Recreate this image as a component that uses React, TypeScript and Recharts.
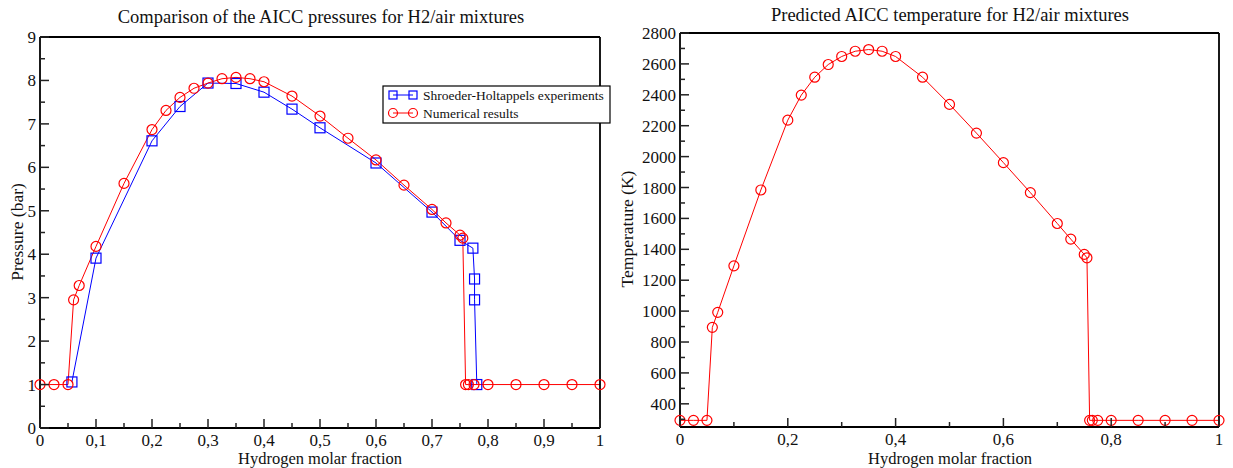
import React from 'react';
import { LineChart, Line, XAxis, YAxis } from 'recharts';

const FONT = '"Liberation Serif", "DejaVu Serif", "Times New Roman", serif';

// Numerical results (shared x for pressure and temperature)
const numX = [0, 0.025, 0.05, 0.06, 0.07, 0.1, 0.15, 0.2, 0.225, 0.25, 0.275, 0.3, 0.325, 0.35, 0.375, 0.4, 0.45, 0.5, 0.55, 0.6, 0.65, 0.7, 0.725, 0.75, 0.755, 0.76, 0.765, 0.775, 0.8, 0.85, 0.9, 0.95, 1];
const numP = [1, 1, 1, 2.95, 3.28, 4.18, 5.63, 6.87, 7.31, 7.61, 7.82, 7.94, 8.04, 8.07, 8.04, 7.97, 7.64, 7.18, 6.67, 6.17, 5.59, 5.03, 4.72, 4.44, 4.37, 1, 1, 1, 1, 1, 1, 1, 1];
const numT = [293, 293, 293, 895, 992, 1293, 1784, 2236, 2398, 2514, 2596, 2648, 2682, 2693, 2682, 2648, 2514, 2338, 2152, 1961, 1767, 1567, 1466, 1367, 1345, 293, 293, 293, 293, 293, 293, 293, 293];

// Shroeder-Holtappels experiments
const expX = [0.057, 0.1, 0.2, 0.25, 0.3, 0.35, 0.4, 0.45, 0.5, 0.6, 0.7, 0.75, 0.773, 0.776, 0.776, 0.78];
const expP = [1.06, 3.91, 6.61, 7.4, 7.94, 7.93, 7.73, 7.34, 6.91, 6.1, 4.97, 4.32, 4.14, 3.43, 2.95, 1.0];

// Ticks
const leftXMajor = [0, 0.1, 0.2, 0.3, 0.4, 0.5, 0.6, 0.7, 0.8, 0.9, 1];
const leftXMinor = [0.05, 0.15, 0.25, 0.35, 0.45, 0.55, 0.65, 0.75, 0.85, 0.95];
const leftYMajor = [0, 1, 2, 3, 4, 5, 6, 7, 8, 9];
const leftYMinor = [0.5, 1.5, 2.5, 3.5, 4.5, 5.5, 6.5, 7.5, 8.5];
const rightXMajor = [0, 0.2, 0.4, 0.6, 0.8, 1];
const rightXMinor = [0.1, 0.3, 0.5, 0.7, 0.9];
const rightYMajor = [400, 600, 800, 1000, 1200, 1400, 1600, 1800, 2000, 2200, 2400, 2600, 2800];
const rightYMinor = [300, 500, 700, 900, 1100, 1300, 1500, 1700, 1900, 2100, 2300, 2500, 2700];

const expData = expX.map((x, i) => ({ x, y: expP[i] }));
const numPData = numX.map((x, i) => ({ x, y: numP[i] }));
const numTData = numX.map((x, i) => ({ x, y: numT[i] }));

const near = (arr: number[], v: number) => arr.some((m) => Math.abs(m - v) < 1e-6);
const fmtX = (v: number) => {
  const r = Math.round(v * 10) / 10;
  return String(r).replace('.', ',');
};
const fmtY = (v: number) => String(Math.round(v));

type Side = 'bottom' | 'top' | 'left' | 'right';

function makeTick(side: Side, majors: number[], fmt: ((v: number) => string) | null) {
  return function Tick(props: any) {
    const { x, y, payload } = props;
    const v = payload.value;
    const major = near(majors, v);
    const len = major ? 9 : 5;
    const ls = { stroke: '#222', strokeWidth: 1.5 };
    let line: any = null;
    let label: any = null;
    if (side === 'bottom') {
      line = <line x1={x} y1={y} x2={x} y2={y - len} {...ls} />;
      if (fmt && major)
        label = (
          <text x={x} y={y + 18} textAnchor="middle" fontSize={17} fontFamily={FONT} fill="#111">
            {fmt(v)}
          </text>
        );
    } else if (side === 'top') {
      line = <line x1={x} y1={y} x2={x} y2={y + len} {...ls} />;
    } else if (side === 'left') {
      line = <line x1={x} y1={y} x2={x + len} y2={y} {...ls} />;
      if (fmt && major)
        label = (
          <text x={x - 4} y={y + 6} textAnchor="end" fontSize={17} fontFamily={FONT} fill="#111">
            {fmt(v)}
          </text>
        );
    } else {
      line = <line x1={x} y1={y} x2={x - len} y2={y} {...ls} />;
    }
    return (
      <g>
        {line}
        {label}
      </g>
    );
  };
}

const axisLine = { stroke: '#000', strokeWidth: 1.8 };

const SquareDot = (p: any) => (
  <rect key={`sq-${p.index}`} x={p.cx - 5} y={p.cy - 5} width={10} height={10} fill="none" stroke="#0000ff" strokeWidth={1.2} />
);

function PressureChart() {
  const xt = [...leftXMajor, ...leftXMinor].sort((a, b) => a - b);
  const yt = [...leftYMajor, ...leftYMinor].sort((a, b) => a - b);
  return (
    <LineChart width={620} height={468} margin={{ top: 0, right: 0, bottom: 0, left: 0 }}>
      <XAxis xAxisId="b" dataKey="x" type="number" orientation="bottom" domain={[0, 1]} ticks={xt} interval={0} height={40}
        tickSize={0} tickMargin={0} tickLine={false} axisLine={axisLine} tick={makeTick('bottom', leftXMajor, fmtX)} />
      <XAxis xAxisId="t" dataKey="x" type="number" orientation="top" domain={[0, 1]} ticks={xt} interval={0} height={37}
        tickSize={0} tickMargin={0} tickLine={false} axisLine={axisLine} tick={makeTick('top', leftXMajor, null)} />
      <YAxis yAxisId="l" type="number" orientation="left" domain={[0, 9]} ticks={yt} interval={0} width={40}
        tickSize={0} tickMargin={0} tickLine={false} axisLine={axisLine} tick={makeTick('left', leftYMajor, fmtY)} />
      <YAxis yAxisId="r" type="number" orientation="right" domain={[0, 9]} ticks={yt} interval={0} width={20}
        tickSize={0} tickMargin={0} tickLine={false} axisLine={axisLine} tick={makeTick('right', leftYMajor, null)} />
      <Line xAxisId="b" yAxisId="l" data={expData} dataKey="y" type="linear" stroke="#0000ff" strokeWidth={1}
        dot={SquareDot} activeDot={false} isAnimationActive={false} />
      <Line xAxisId="b" yAxisId="l" data={numPData} dataKey="y" type="linear" stroke="#ff0000" strokeWidth={1}
        dot={{ r: 5, stroke: '#ff0000', fill: 'none', strokeWidth: 1.2 }} activeDot={false} isAnimationActive={false} />
    </LineChart>
  );
}

function TemperatureChart() {
  const xt = [...rightXMajor, ...rightXMinor].sort((a, b) => a - b);
  const yt = [...rightYMajor, ...rightYMinor].sort((a, b) => a - b);
  return (
    <LineChart width={593} height={468} margin={{ top: 0, right: 0, bottom: 0, left: 0 }}>
      <XAxis xAxisId="b" dataKey="x" type="number" orientation="bottom" domain={[0, 1]} ticks={xt} interval={0} height={41}
        tickSize={0} tickMargin={0} tickLine={false} axisLine={axisLine} tick={makeTick('bottom', rightXMajor, fmtX)} />
      <XAxis xAxisId="t" dataKey="x" type="number" orientation="top" domain={[0, 1]} ticks={xt} interval={0} height={33}
        tickSize={0} tickMargin={0} tickLine={false} axisLine={axisLine} tick={makeTick('top', rightXMajor, null)} />
      <YAxis yAxisId="l" type="number" orientation="left" domain={[250, 2800]} ticks={yt} interval={0} width={40}
        tickSize={0} tickMargin={0} tickLine={false} axisLine={axisLine} tick={makeTick('left', rightYMajor, fmtY)} />
      <YAxis yAxisId="r" type="number" orientation="right" domain={[250, 2800]} ticks={yt} interval={0} width={14}
        tickSize={0} tickMargin={0} tickLine={false} axisLine={axisLine} tick={makeTick('right', rightYMajor, null)} />
      <Line xAxisId="b" yAxisId="l" data={numTData} dataKey="y" type="linear" stroke="#ff0000" strokeWidth={1}
        dot={{ r: 5, stroke: '#ff0000', fill: 'none', strokeWidth: 1.2 }} activeDot={false} isAnimationActive={false} />
    </LineChart>
  );
}

function Overlay() {
  const t = { fontFamily: FONT, fill: '#111' };
  return (
    <svg width={1233} height={468} style={{ position: 'absolute', left: 0, top: 0, pointerEvents: 'none' }}>
      <text x={321} y={23} textAnchor="middle" fontSize={18.5} {...t}>Comparison of the AICC pressures for H2/air mixtures</text>
      <text x={950} y={21} textAnchor="middle" fontSize={18.5} {...t}>Predicted AICC temperature for H2/air mixtures</text>
      <text x={320} y={464} textAnchor="middle" fontSize={16.5} {...t}>Hydrogen molar fraction</text>
      <text x={950} y={464} textAnchor="middle" fontSize={16.5} {...t}>Hydrogen molar fraction</text>
      <text transform="translate(23,232) rotate(-90)" textAnchor="middle" fontSize={17.5} {...t}>Pressure (bar)</text>
      <text transform="translate(633,229) rotate(-90)" textAnchor="middle" fontSize={17.5} {...t}>Temperature (K)</text>
      <g>
        <rect x={383} y={86} width={227} height={37} fill="#fff" stroke="#000" strokeWidth={1.2} />
        <line x1={393} y1={95} x2={413} y2={95} stroke="#0000ff" strokeWidth={1} />
        <rect x={389} y={91} width={8} height={8} fill="none" stroke="#0000ff" strokeWidth={1.2} />
        <rect x={409} y={91} width={8} height={8} fill="none" stroke="#0000ff" strokeWidth={1.2} />
        <text x={423} y={99.5} fontSize={13.5} {...t}>Shroeder-Holtappels experiments</text>
        <line x1={393} y1={113} x2={413} y2={113} stroke="#ff0000" strokeWidth={1} />
        <circle cx={393} cy={113} r={4.5} fill="none" stroke="#ff0000" strokeWidth={1.2} />
        <circle cx={413} cy={113} r={4.5} fill="none" stroke="#ff0000" strokeWidth={1.2} />
        <text x={423} y={117.5} fontSize={13.5} {...t}>Numerical results</text>
      </g>
    </svg>
  );
}

export default function App() {
  return (
    <div style={{ position: 'absolute', left: 0, top: 0, width: 1233, height: 468, background: '#fff', overflow: 'hidden' }}>
      <div style={{ position: 'absolute', left: 0, top: 0 }}>
        <PressureChart />
      </div>
      <div style={{ position: 'absolute', left: 640, top: 0 }}>
        <TemperatureChart />
      </div>
      <Overlay />
    </div>
  );
}
